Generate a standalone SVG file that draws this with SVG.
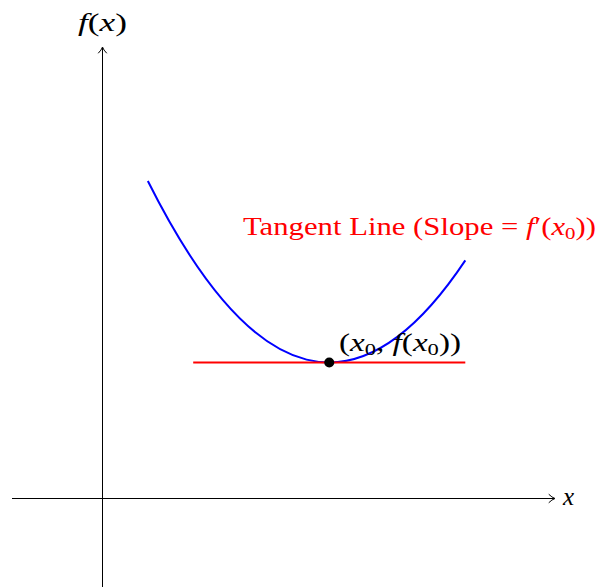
<svg xmlns="http://www.w3.org/2000/svg" width="596" height="587" viewBox="0 0 596 587">
<style>
.ax{stroke:#000;stroke-width:1;fill:none}
.ah{stroke:#000;stroke-width:1;fill:none;stroke-linecap:round}
.i{font-style:italic}
</style>
<rect width="596" height="587" fill="#fff"/>
<g id="axes">
<line class="ax" x1="12" y1="498.5" x2="554" y2="498.5"/>
<path class="ah" d="M549,494.5 Q552,497.5 555,498.5 Q552,499.5 549,502.5"/>
<line class="ax" x1="102.5" y1="587" x2="102.5" y2="48"/>
<path class="ah" d="M98.5,53 Q101.5,50 102.5,47 Q103.5,50 106.5,53"/>
</g>
<g id="curve">
<path d="M147.85,181.05 Q306.6,498.5 465.3,260.4" fill="none" stroke="#0000ff" stroke-width="2"/>
</g>
<g id="tangent">
<line x1="193.2" y1="362.45" x2="465.3" y2="362.45" stroke="#ff0000" stroke-width="2"/>
</g>
<g id="point">
<circle cx="329.25" cy="362.45" r="5" fill="#000"/>
</g>
<g id="labels" font-family="Liberation Serif, Times New Roman, Times, serif" font-size="25">
<text x="78" y="31" textLength="49" lengthAdjust="spacingAndGlyphs"><tspan class="i">f</tspan>(<tspan class="i">x</tspan>)</text>
<text class="i" x="563" y="505">x</text>
<text x="339" y="351" textLength="122" lengthAdjust="spacingAndGlyphs">(<tspan class="i">x</tspan><tspan font-size="17" dy="4">0</tspan><tspan dy="-4">, </tspan><tspan class="i">f</tspan>(<tspan class="i">x</tspan><tspan font-size="17" dy="4">0</tspan><tspan dy="-4">))</tspan></text>
<text x="243" y="235" fill="#ff0000" textLength="353" lengthAdjust="spacingAndGlyphs">Tangent Line (Slope = <tspan class="i">f</tspan>′(<tspan class="i">x</tspan><tspan font-size="17" dy="4">0</tspan><tspan dy="-4">))</tspan></text>
</g>
</svg>
